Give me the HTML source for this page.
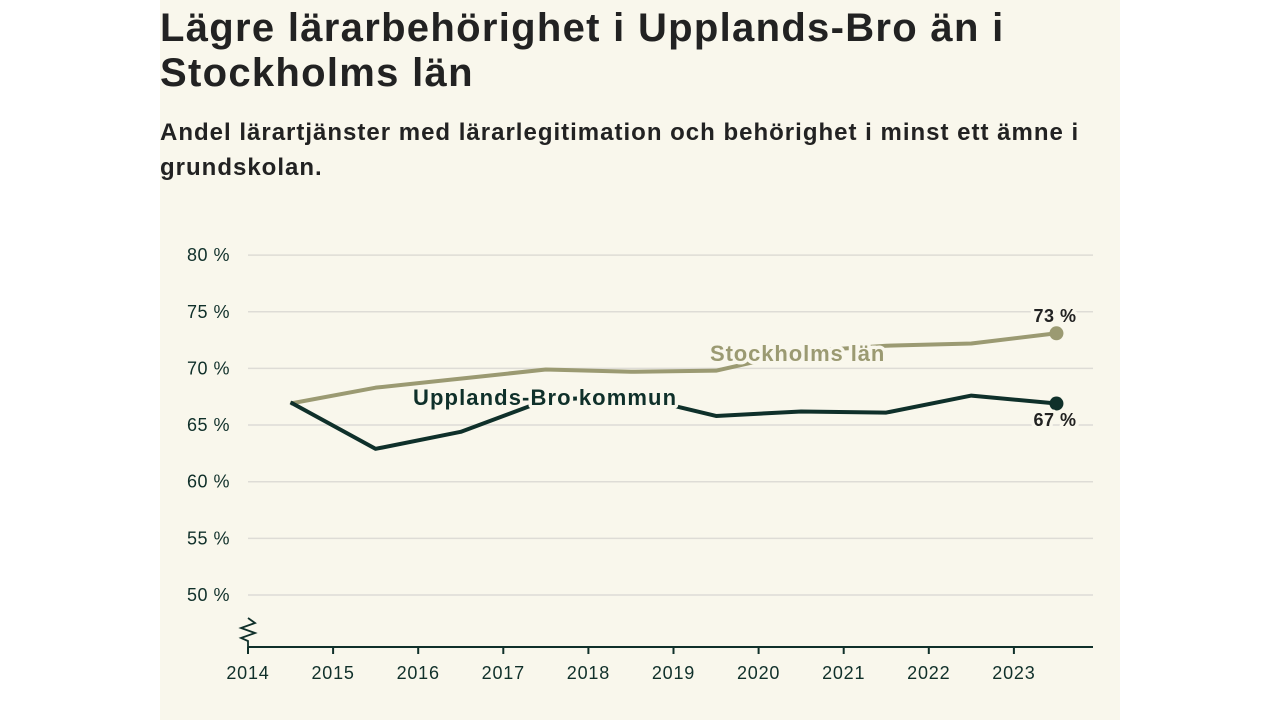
<!DOCTYPE html>
<html><head><meta charset="utf-8"><style>
body{margin:0;width:1280px;height:720px;background:#fff;overflow:hidden;font-family:"Liberation Sans",sans-serif}
#panel{position:absolute;left:160px;top:0;width:960px;height:720px;background:#f9f7ec}
h1{position:absolute;left:160px;top:6px;margin:0;font-size:40px;line-height:45px;font-weight:bold;color:#222;width:1000px;letter-spacing:1.3px;white-space:nowrap}
p{position:absolute;left:160px;top:115px;margin:0;font-size:24px;line-height:35px;font-weight:bold;color:#222;width:960px;letter-spacing:1px;white-space:nowrap}
svg{position:absolute;left:0;top:0}
</style></head><body>
<div id="panel"></div>
<h1>Lägre lärarbehörighet i Upplands-Bro än i<br>Stockholms län</h1>
<p>Andel lärartjänster med lärarlegitimation och behörighet i minst ett ämne i<br>grundskolan.</p>
<svg id="c" width="1280" height="720"></svg>
<script>
const years=[2014.5,2015.5,2016.5,2017.5,2018.5,2019.5,2020.5,2021.5,2022.5,2023.5];
const sthlm=[66.9,68.3,69.1,69.9,69.7,69.8,71.5,72.0,72.2,73.1];
const ubro=[67.0,62.9,64.4,67.2,67.6,65.8,66.2,66.1,67.6,66.9];
const yTicks=[50,55,60,65,70,75,80];
const xTicks=[2014,2015,2016,2017,2018,2019,2020,2021,2022,2023];
const NS="http://www.w3.org/2000/svg",svg=document.getElementById('c');
const x=v=>248+(v-2014)*85.1, y=v=>595-(v-50)*11.33;
function el(t,a,txt){const e=document.createElementNS(NS,t);for(const k in a)e.setAttribute(k,a[k]);if(txt!=null)e.textContent=txt;svg.appendChild(e);return e;}
yTicks.forEach(t=>{
 const g=el('line',{x1:248,x2:1093,y1:y(t),y2:y(t),stroke:'#dedcd6','stroke-width':1.5});
 
 
 const l=el('text',{x:230,y:y(t)+6,'text-anchor':'end','font-size':18,'letter-spacing':0.5,fill:'#10302a'},t+' %');
 
 
});
const ax=el('line',{x1:248,x2:1093,y1:647,y2:647,stroke:'#10302a','stroke-width':2});


const br=el('polyline',{points:'248,618 255,623 241,628 255,633 241,638 248,641 248,647',fill:'none',stroke:'#10302a','stroke-width':1.8});


xTicks.forEach(t=>{
 const tk=el('line',{x1:x(t),x2:x(t),y1:647,y2:654,stroke:'#10302a','stroke-width':2});
 
 
 const l=el('text',{x:x(t),y:679,'text-anchor':'middle','font-size':18,'letter-spacing':0.8,fill:'#10302a'},t);
 
 
});
function series(vals,col,name){
 const p=el('polyline',{points:vals.map((v,i)=>x(years[i])+','+y(v)).join(' '),fill:'none',stroke:col,'stroke-width':4,'stroke-linejoin':'round'});
 
 
 const c=el('circle',{cx:x(years[years.length-1]),cy:y(vals[vals.length-1]),r:7,fill:col});
 
 
}
series(sthlm,'#9b9a72','stockholm');
series(ubro,'#0f302a','upplands-bro');
function lab(t,xx,yy,col,size,ls,name,anchor){
 const e=el('text',{x:xx,y:yy,'font-size':size,'letter-spacing':ls,fill:col,'font-weight':'bold',stroke:'#f9f7ec','stroke-width':7,'paint-order':'stroke','stroke-linejoin':'round','text-anchor':anchor||'start'},t);
 
 
}
lab('Stockholms län',710,361,'#9b9a72',22,0.9,'stockholm-label');
lab('Upplands-Bro kommun',413,405,'#0f302a',22,1.1,'upplands-bro-label');
lab(Math.round(sthlm[9])+' %',1055,322,'#222',18,0.5,'stockholm-end-value','middle');
lab(Math.round(ubro[9])+' %',1055,426,'#222',18,0.5,'upplands-bro-end-value','middle');
</script>
</body></html>
